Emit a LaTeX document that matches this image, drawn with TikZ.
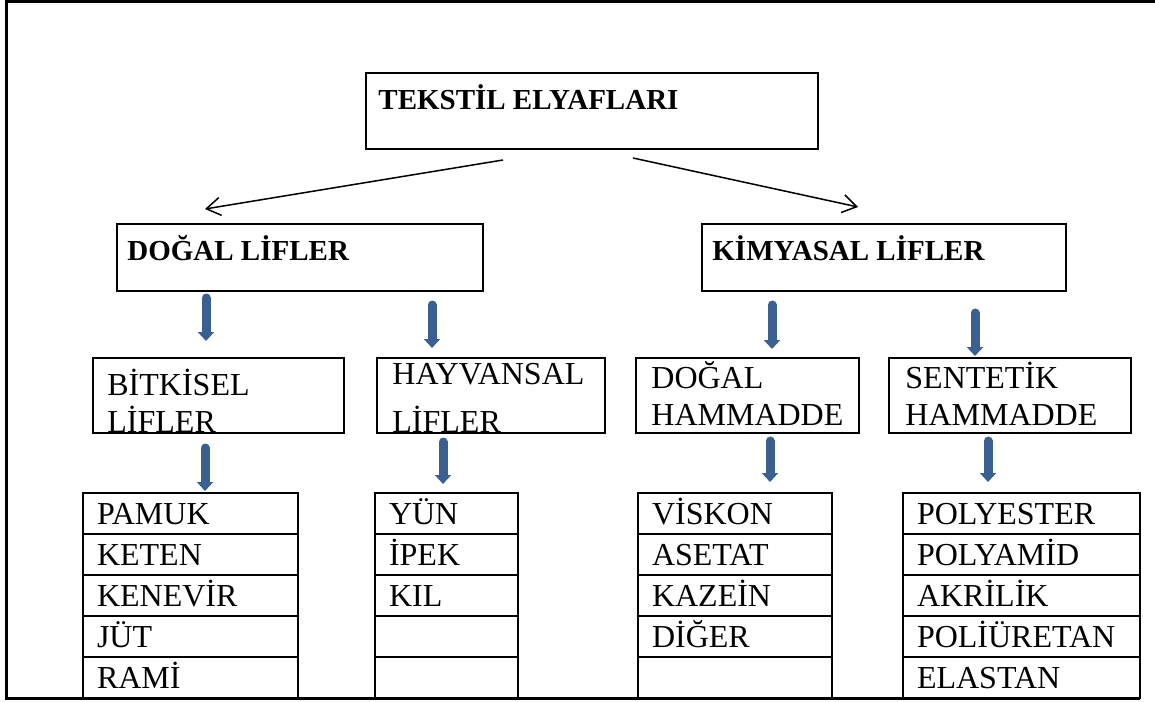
\documentclass[tikz,border=0pt]{standalone}
\usepackage{fontspec}
\setmainfont{Liberation Serif}
\usetikzlibrary{arrows.meta,calc}
\definecolor{arrblue}{RGB}{58,96,145}
\tikzset{
  box/.style={draw,line width=1pt,inner sep=0pt},
  cell/.style={draw,line width=1pt,inner ysep=0pt,inner xsep=7pt,minimum height=20.5pt,
    text height=10.5pt,text depth=0pt,align=left,font=\fontsize{16}{18}\selectfont},
  lbl/.style={anchor=base west,inner sep=0pt,text height=10.5pt,text depth=0pt,
    font=\fontsize{16}{18}\selectfont},
  hd/.style={anchor=base west,inner sep=0pt,font=\fontsize{14.5}{17}\selectfont\bfseries},
  blk/.style={line width=4.5pt,arrblue,line cap=round,-{Triangle[width=8pt,length=4.5pt]}}
}
\begin{document}
\begin{tikzpicture}[x=0.5pt,y=-0.5pt,>={Straight Barb[length=7pt,width=9pt]}]
  \useasboundingbox (0,0) rectangle (1155,701);

  \node[box,minimum width=226pt,minimum height=38pt] (tek) at (592,111) {};
  \node[box,minimum width=183pt,minimum height=33.5pt] (dogal) at (300,257.5) {};
  \node[box,minimum width=182pt,minimum height=33.5pt] (kim) at (884,257.5) {};
  \node[box,minimum width=125.5pt,minimum height=37.5pt] (bit) at (218.5,395.5) {};
  \node[box,minimum width=114pt,minimum height=37.5pt] (hay) at (491,395.5) {};
  \node[box,minimum width=111.5pt,minimum height=37.5pt] (dham) at (747.5,395.5) {};
  \node[box,minimum width=121pt,minimum height=37.5pt] (sham) at (1010,395.5) {};

  \node[hd] (tekT) at (378,110) {TEKSTİL ELYAFLARI};
  \node[hd] (dogalT) at (127,260) {DOĞAL LİFLER};
  \node[hd] (kimT) at (712,260) {KİMYASAL LİFLER};
  \node[lbl] (bitA) at (107,395) {BİTKİSEL};
  \node[lbl] (bitB) at (107,432) {LİFLER};
  \node[lbl] (hayA) at (392,384) {HAYVANSAL};
  \node[lbl] (hayB) at (392,432) {LİFLER};
  \node[lbl] (dhamA) at (651,388) {DOĞAL};
  \node[lbl] (dhamB) at (651,425) {HAMMADDE};
  \node[lbl] (shamA) at (905,388) {SENTETİK};
  \node[lbl] (shamB) at (905,425) {HAMMADDE};

  \node[cell,text width=93.5pt] (pamuk) at (190.5,513.5) {PAMUK};
  \node[cell,text width=93.5pt] (keten) at (190.5,554.5) {KETEN};
  \node[cell,text width=93.5pt] (kenevir) at (190.5,595.5) {KENEVİR};
  \node[cell,text width=93.5pt] (jut) at (190.5,636.5) {JÜT};
  \node[cell,text width=93.5pt] (rami) at (190.5,677.5) {RAMİ};

  \node[cell,text width=57.5pt] (yun) at (446.5,513.5) {YÜN};
  \node[cell,text width=57.5pt] (ipek) at (446.5,554.5) {İPEK};
  \node[cell,text width=57.5pt] (kil) at (446.5,595.5) {KIL};
  \node[cell,text width=57.5pt] (hay4) at (446.5,636.5) {};
  \node[cell,text width=57.5pt] (hay5) at (446.5,677.5) {};

  \node[cell,text width=83pt] (viskon) at (735,513.5) {VİSKON};
  \node[cell,text width=83pt] (asetat) at (735,554.5) {ASETAT};
  \node[cell,text width=83pt] (kazein) at (735,595.5) {KAZEİN};
  \node[cell,text width=83pt] (diger) at (735,636.5) {DİĞER};
  \node[cell,text width=83pt] (dham5) at (735,677.5) {};

  \node[cell,text width=104.5pt] (polyester) at (1021.5,513.5) {POLYESTER};
  \node[cell,text width=104.5pt] (polyamid) at (1021.5,554.5) {POLYAMİD};
  \node[cell,text width=104.5pt] (akrilik) at (1021.5,595.5) {AKRİLİK};
  \node[cell,text width=104.5pt] (poliuretan) at (1021.5,636.5) {POLİÜRETAN};
  \node[cell,text width=104.5pt] (elastan) at (1021.5,677.5) {ELASTAN};

  \draw[->,line width=0.75pt] ($(tek.south)+(-89,10)$) -- ($(dogal.north)+(-95,-14)$);
  \draw[->,line width=0.75pt] ($(tek.south)+(41,8)$) -- ($(kim.north)+(-26,-16)$);

  \draw[blk] ($(dogal.south)+(-94,6)$) -- ($(bit.north)+(-12.5,-16)$);
  \draw[blk] ($(dogal.south)+(132,13)$) -- ($(hay.north)+(-59,-9)$);
  \draw[blk] ($(kim.south)+(-112,13)$) -- ($(dham.north)+(24.5,-8)$);
  \draw[blk] ($(kim.south)+(91,21)$) -- ($(sham.north)+(-35,-1)$);
  \draw[blk] ($(bit.south)+(-13.5,14)$) -- ($(pamuk.north)+(14.5,-1)$);
  \draw[blk] ($(hay.south)+(-48,8)$) -- ($(yun.north)+(-3.5,-8)$);
  \draw[blk] ($(dham.south)+(22.5,7)$) -- ($(viskon.north)+(35,-10)$);
  \draw[blk] ($(sham.south)+(-22,7)$) -- ($(polyester.north)+(-33.5,-10)$);

  \draw[line width=1.5pt] (1155,2) -- (6,2) -- (6,698) -- (1140,698);
\end{tikzpicture}
\end{document}
